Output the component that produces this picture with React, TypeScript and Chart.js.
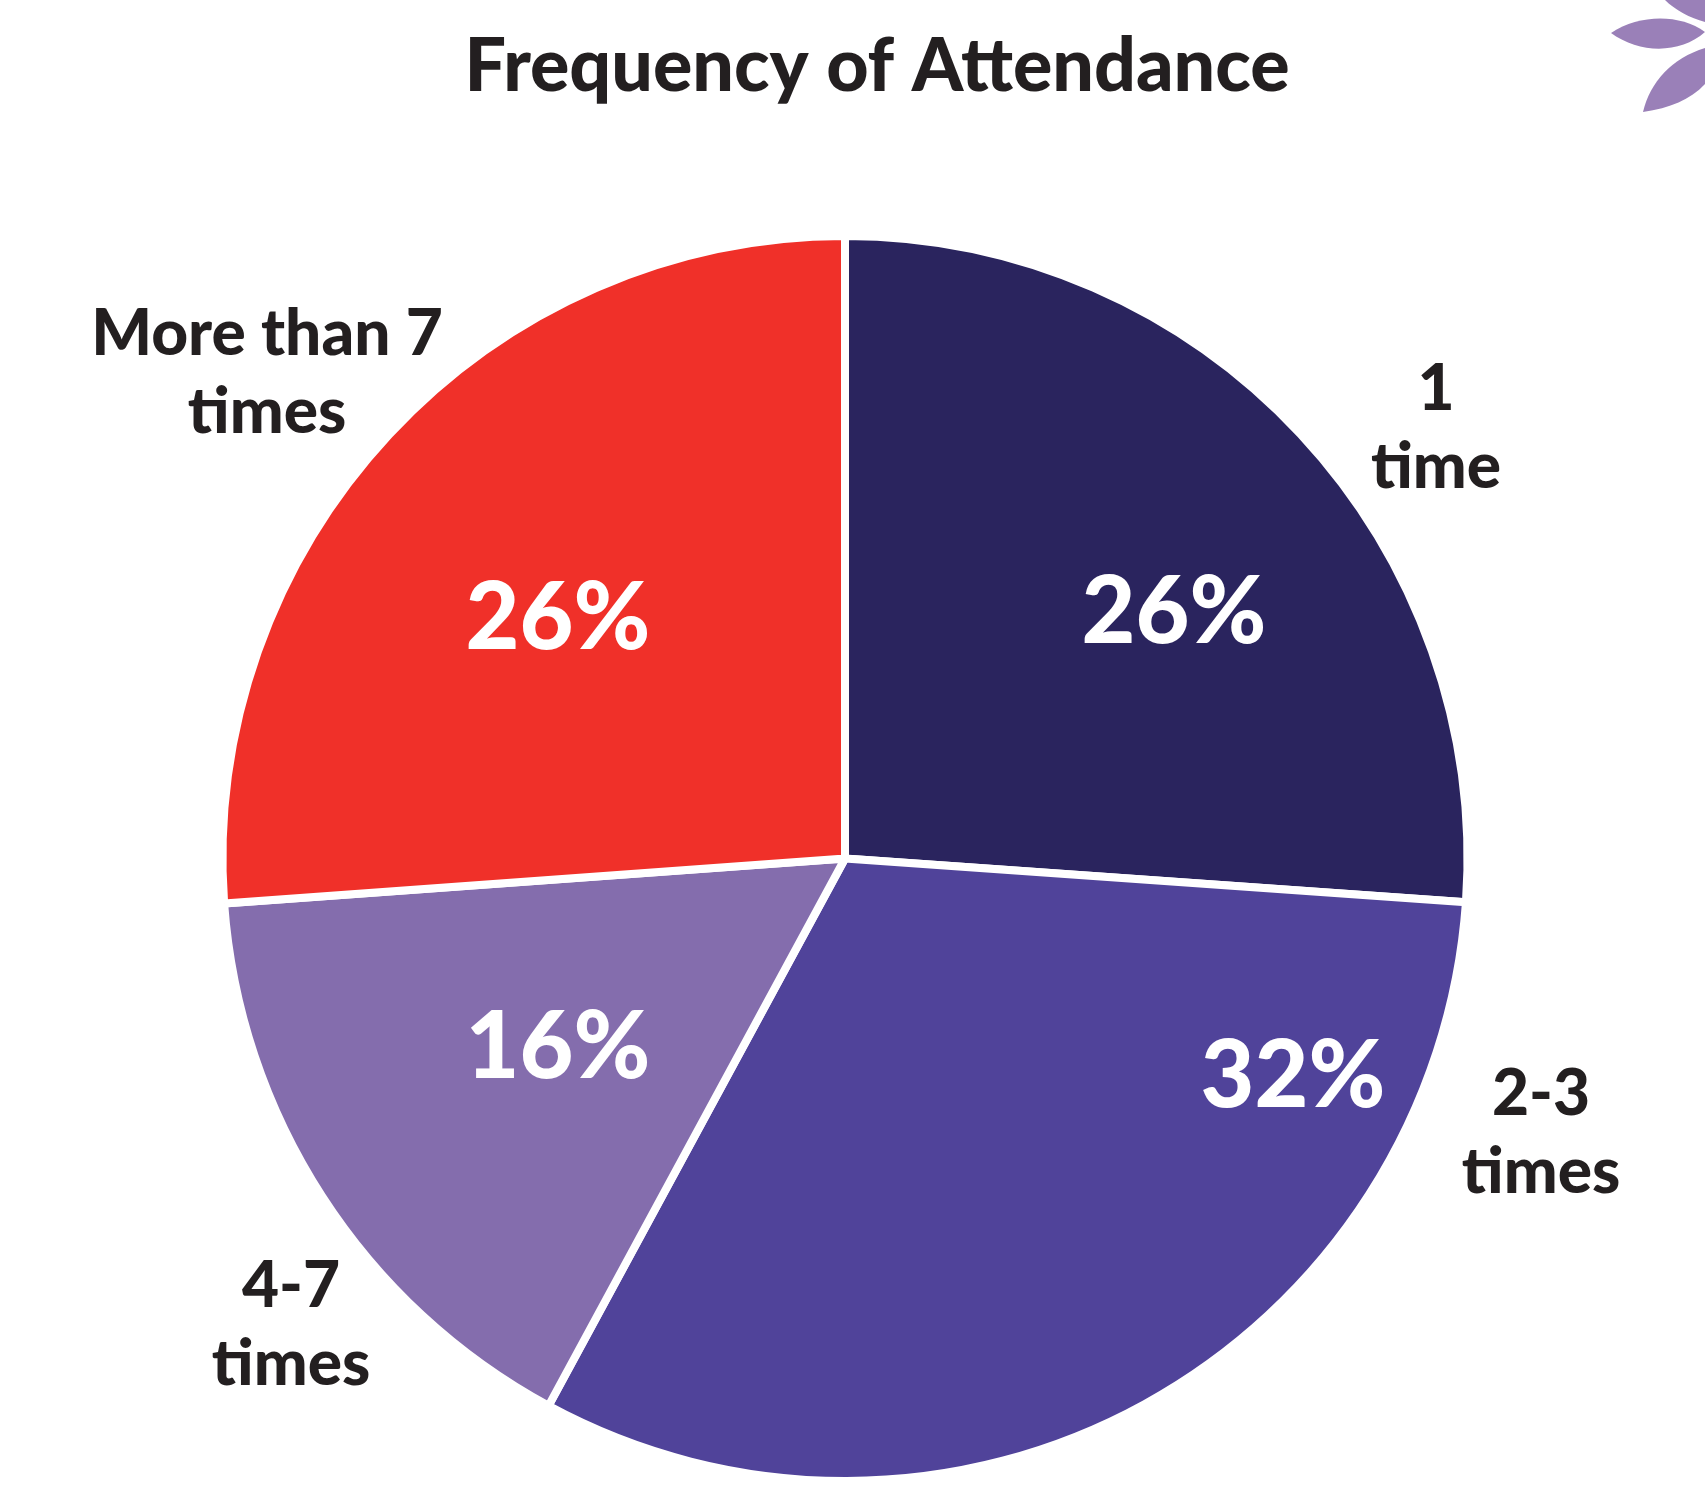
import React, { useEffect, useRef } from "react";
import { Chart, registerables } from "chart.js";

Chart.register(...registerables);

const chartTitle = "Frequency of Attendance";
const categories = [["1", "time"], ["2-3", "times"], ["4-7", "times"], ["More than 7", "times"]];
const shares = [26.12, 31.78, 15.95, 26.15];
const sliceColors = ["#2A245E", "#50439A", "#846DAD", "#F03029"];

const inkColor = "#231F20";
const fontFamily = "Lato, Carlito, sans-serif";
const categoryOffsets = [[591, -449], [696, 256], [-554, 448], [-578, -504]];
const shareOffsets = [[329, -216], [448, 248], [-287, 219], [-287, -210]];
const leafColor = "#9A80B8";

const annotate = {
  id: "annotate",
  afterLayout(chart: any) {
    chart.titleBlock.left += 32;
    chart.titleBlock.right += 32;
  },
  afterDatasetsDraw(chart: any) {
    const { ctx } = chart;
    const arcs = chart.getDatasetMeta(0).data;
    ctx.save();
    ctx.textAlign = "center";
    ctx.textBaseline = "alphabetic";
    arcs.forEach((arc: any, i: number) => {
      ctx.fillStyle = inkColor;
      ctx.font = `900 64px ${fontFamily}`;
      categories[i].forEach((line, j) => {
        ctx.fillText(line, arc.x + categoryOffsets[i][0], arc.y + categoryOffsets[i][1] + j * 78.5);
      });
      ctx.fillStyle = "#FFFFFF";
      ctx.font = `900 93px ${fontFamily}`;
      ctx.fillText(`${Math.round(shares[i])}%`, arc.x + shareOffsets[i][0], arc.y + shareOffsets[i][1]);
    });

    ctx.fillStyle = leafColor;
    ctx.beginPath();
    ctx.moveTo(1611, 33);
    ctx.bezierCurveTo(1640, 14, 1680, 14, 1705, 32);
    ctx.bezierCurveTo(1680, 54, 1640, 54, 1611, 33);
    ctx.closePath();
    ctx.fill();
    ctx.beginPath();
    ctx.moveTo(1643, 112);
    ctx.bezierCurveTo(1650, 82, 1672, 58, 1705, 48);
    ctx.lineTo(1705, 84);
    ctx.bezierCurveTo(1690, 100, 1670, 108, 1643, 112);
    ctx.closePath();
    ctx.fill();
    ctx.beginPath();
    ctx.moveTo(1665, 0);
    ctx.bezierCurveTo(1675, 10, 1690, 18, 1705, 22);
    ctx.lineTo(1705, 0);
    ctx.closePath();
    ctx.fill();
    ctx.restore();
  },
};

export default function App() {
  const ref = useRef<HTMLCanvasElement>(null);
  useEffect(() => {
    const chart = new Chart(ref.current!, {
      type: "pie",
      data: {
        labels: categories,
        datasets: [{
          data: shares,
          backgroundColor: sliceColors,
          borderColor: "#FFFFFF",
          borderWidth: 8,
        }],
      },
      options: {
        responsive: false,
        animation: false,
        layout: { padding: { left: 218.5, right: 233.5, top: 0, bottom: 4 } },
        plugins: {
          legend: { display: false },
          tooltip: { enabled: false },
          title: {
            display: true,
            text: chartTitle,
            color: inkColor,
            font: { family: fontFamily, size: 73.5, weight: 900, lineHeight: 1 },
            padding: { top: 31, bottom: 127.5 },
          },
        },
      },
      plugins: [annotate],
    });
    return () => chart.destroy();
  }, []);
  return (
    <div style={{ position: "absolute", left: 0, top: 0, width: 1705, height: 1489 }}>
      <canvas ref={ref} width={1705} height={1489} style={{ display: "block" }} />
    </div>
  );
}
